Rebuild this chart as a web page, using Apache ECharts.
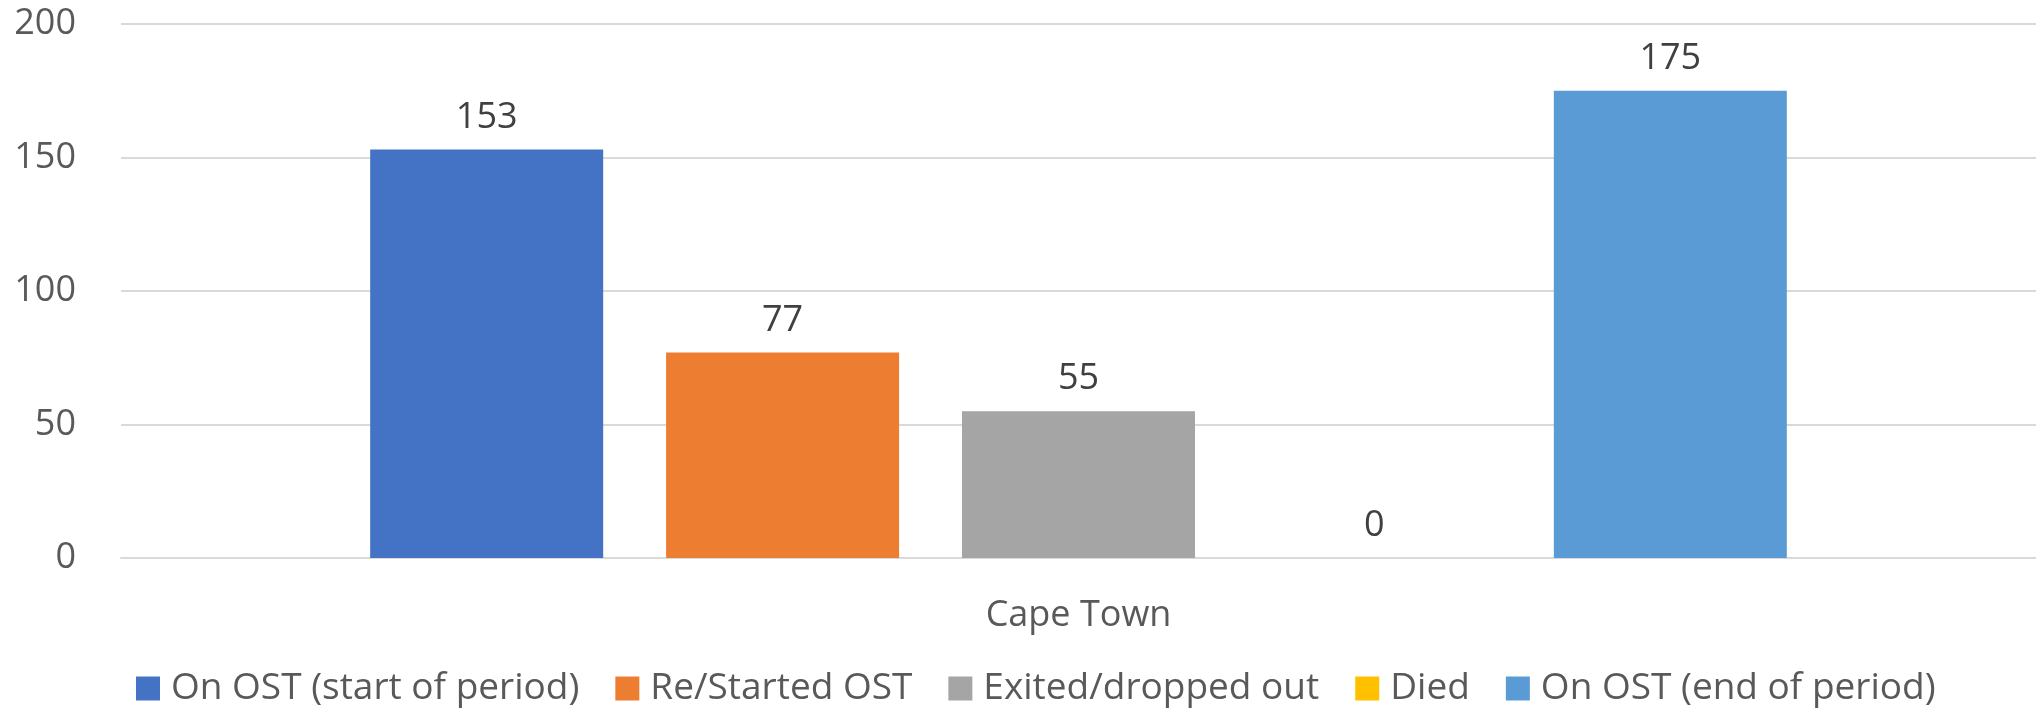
<!DOCTYPE html>
<html>
<head>
<meta charset="utf-8">
<script src="https://cdn.jsdelivr.net/npm/echarts@6/dist/echarts.min.js"></script>
<style>
  html, body { margin: 0; padding: 0; background: #fff; }
  #chart { width: 2036px; height: 710px; }
</style>
</head>
<body>
<div id="chart"></div>
<script>
  // 数据
  var categories = ['Cape Town'];
  var seriesNames = ['On OST (start of period)', 'Re/Started OST', 'Exited/dropped out', 'Died', 'On OST (end of period)'];
  var seriesValues = [[153], [77], [55], [0], [175]];
  var colors = ['#4472C4', '#ED7D31', '#A5A5A5', '#FFC000', '#5B9BD5'];
  var yTicks = { min: 0, max: 200, interval: 50 };

  var fontFamily = 'Open Sans';

  var myChart = echarts.init(document.getElementById('chart'));

  var series = seriesNames.map(function (name, i) {
    return {
      name: name,
      type: 'bar',
      data: seriesValues[i],
      barWidth: 233,
      barGap: '27%',
      itemStyle: { color: colors[i] },
      label: {
        show: true,
        position: 'top',
        distance: 14,
        color: '#404040',
        fontSize: 36,
        fontFamily: fontFamily
      }
    };
  });

  var option = {
    animation: false,
    backgroundColor: '#fff',
    grid: { left: 121, right: 0, top: 24, bottom: 152 },
    legend: {
      left: 131,
      top: 665,
      itemWidth: 24,
      itemHeight: 24,
      itemGap: 36,
      icon: 'rect',
      textStyle: {
        color: '#595959',
        fontSize: 37,
        fontFamily: fontFamily,
        padding: [0, 0, 0, 6]
      },
      data: seriesNames
    },
    xAxis: {
      type: 'category',
      data: categories,
      axisLine: { lineStyle: { color: '#d9d9d9', width: 2 } },
      axisTick: { show: false },
      axisLabel: {
        color: '#595959',
        fontSize: 36,
        fontFamily: fontFamily,
        margin: 40
      }
    },
    yAxis: {
      type: 'value',
      min: yTicks.min,
      max: yTicks.max,
      interval: yTicks.interval,
      axisLine: { show: false },
      axisTick: { show: false },
      splitLine: { lineStyle: { color: '#d9d9d9', width: 2 } },
      axisLabel: {
        color: '#595959',
        fontSize: 36,
        fontFamily: fontFamily,
        margin: 45
      }
    },
    series: series
  };

  myChart.setOption(option);
</script>
</body>
</html>
